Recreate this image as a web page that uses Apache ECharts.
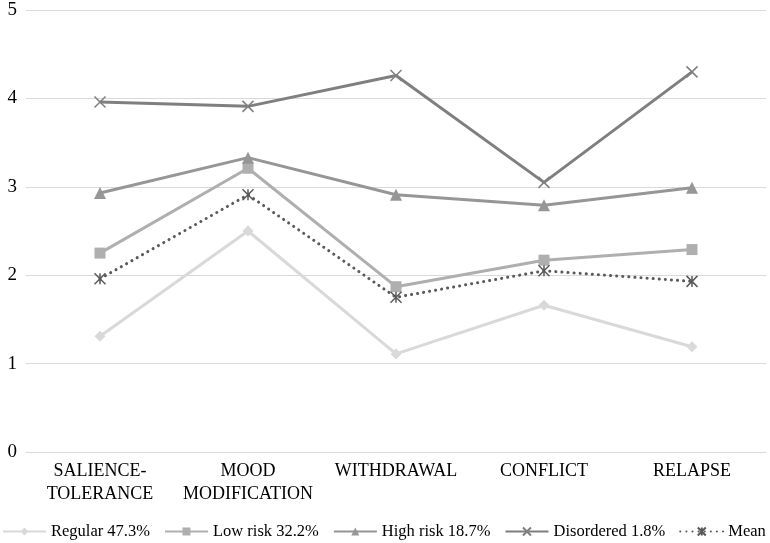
<!DOCTYPE html>
<html><head><meta charset="utf-8">
<script src="https://cdn.jsdelivr.net/npm/echarts@6/dist/echarts.min.js"></script>
<style>html,body{margin:0;padding:0;background:#fff}#c{width:770px;height:543px}</style>
</head><body><div id="c"></div>
<script>
const categories = ['SALIENCE-\nTOLERANCE', 'MOOD\nMODIFICATION', 'WITHDRAWAL', 'CONFLICT', 'RELAPSE'];
const yTicks = [0, 1, 2, 3, 4, 5];
const regular = [1.31, 2.50, 1.11, 1.66, 1.19];
const lowRisk = [2.25, 3.21, 1.87, 2.17, 2.29];
const highRisk = [2.93, 3.33, 2.91, 2.79, 2.99];
const disordered = [3.96, 3.91, 4.26, 3.05, 4.30];
const mean = [1.96, 2.91, 1.75, 2.05, 1.93];
const seriesNames = ['Regular 47.3%', 'Low risk 32.2%', 'High risk 18.7%', 'Disordered 1.8%', 'Mean'];

const font = 'Liberation Serif';
const X_PATH = 'path://M0,0L10,10M10,0L0,10';
const AST_PATH = 'path://M0,0L10,10M10,0L0,10M5,0L5,10';

function mk(name, data, color, symbol, size, dotted, strokeOnly) {
  return {
    name, type: 'line', data,
    symbol, symbolSize: size, showSymbol: true,
    lineStyle: { color, width: 3, type: dotted ? [0.1, 6] : 'solid', cap: dotted ? 'round' : 'butt' },
    itemStyle: strokeOnly ? { color: color, borderColor: color, borderWidth: 1.5 } : { color: color, borderWidth: 0 },
    emphasis: { disabled: true },
    animation: false
  };
}

const chart = echarts.init(document.getElementById('c'), null, { renderer: 'canvas' });
chart.setOption({
  backgroundColor: '#fff',
  animation: false,
  grid: { left: 26, right: 4, top: 10, bottom: 91 },
  xAxis: {
    type: 'category', data: categories, boundaryGap: true,
    axisLine: { show: true, lineStyle: { color: '#d9d9d9', width: 1 } },
    axisTick: { show: false },
    axisLabel: { color: '#000', fontFamily: font, fontSize: 18, lineHeight: 23, margin: 8, interval: 0 },
    splitLine: { show: false }
  },
  yAxis: {
    type: 'value', min: yTicks[0], max: yTicks[yTicks.length - 1], interval: 1,
    axisLine: { show: false }, axisTick: { show: false },
    axisLabel: { color: '#000', fontFamily: font, fontSize: 19, margin: 9 },
    splitLine: { lineStyle: { color: '#d9d9d9', width: 1 } }
  },
  legend: {
    top: 523, left: 2, width: 768, padding: 0, itemGap: 14, itemWidth: 43, itemHeight: 10,
    textStyle: { color: '#000', fontFamily: font, fontSize: 16.5 },
    data: seriesNames
  },
  series: [
    mk(seriesNames[0], regular, '#d9d9d9', 'diamond', 11, false, false),
    mk(seriesNames[1], lowRisk, '#afafaf', 'rect', 11, false, false),
    mk(seriesNames[2], highRisk, '#969696', 'triangle', 12, false, false),
    mk(seriesNames[3], disordered, '#7f7f7f', X_PATH, 11, false, true),
    mk(seriesNames[4], mean, '#5a5a5a', AST_PATH, 11, true, true)
  ]
});
</script></body></html>
